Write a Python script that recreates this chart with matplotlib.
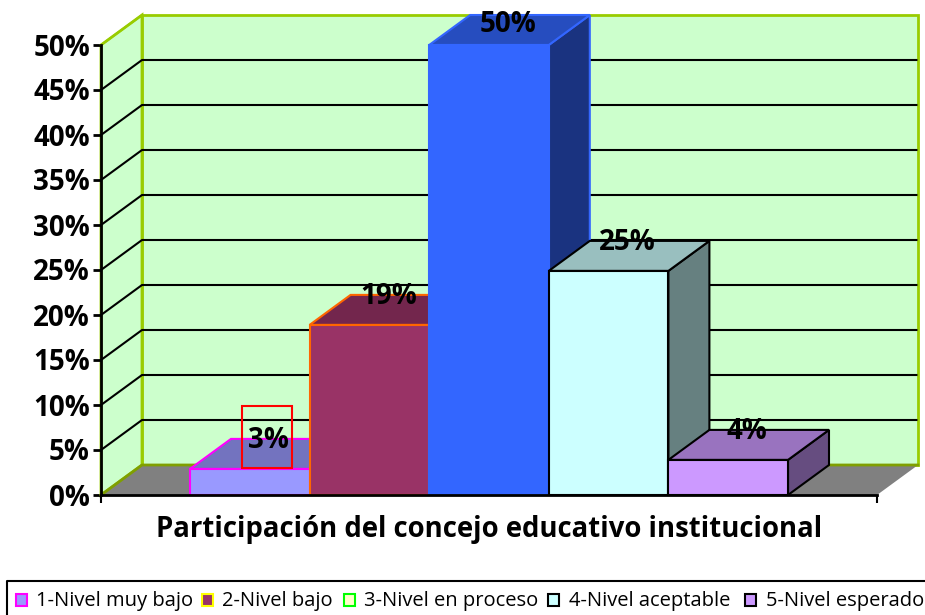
import matplotlib
matplotlib.use('Agg')
import matplotlib.pyplot as plt
from matplotlib.patches import Polygon, Rectangle
from matplotlib.transforms import ScaledTranslation

W, H = 925, 615

categories = ['1-Nivel muy bajo', '2-Nivel bajo', '3-Nivel en proceso', '4-Nivel aceptable', '5-Nivel esperado']
values = [2.9, 18.9, 50, 24.9, 3.9]
y_ticks = [0, 5, 10, 15, 20, 25, 30, 35, 40, 45, 50]
title = 'Participación del concejo educativo institucional'

bar_colors = ['#9999FF', '#993366', '#3366FF', '#CCFFFF', '#CC99FF']
bar_edges = ['#FF00FF', '#FF6600', '#3366FF', '#000000', '#000000']
legend_colors = ['#9999FF', '#993366', '#FFFFCC', '#CCFFFF', '#CC99FF']
legend_edges = ['#FF00FF', '#FFFF00', '#00FF00', '#000000', '#000000']

# legend entry x positions in pixels (swatch, text)
legend_x = [(16, 36), (202, 222), (344, 364), (548, 569), (745, 766)]

plt.rcParams['font.family'] = ['Open Sans', 'DejaVu Sans']

fig = plt.figure(figsize=(W / 100, H / 100), dpi=100)
ax = fig.add_axes([101 / W, 1 - 495 / H, 776 / W, 450 / H])
ax.set_ylim(0, 50)
bar_w = 119.6 / 776
ax.set_xlim(0, 1)
ax.patch.set_visible(False)

# depth of the fake 3d box, axes x units / percent
dx = 41 / 776
dy = 30 / 9


def tint(color, f):
    r, g, b = matplotlib.colors.to_rgb(color)
    return (r * f, g * f, b * f)


def poly(points, face, edge, lw=1.5, z=1):
    ax.add_patch(Polygon(points, closed=True, facecolor=face, edgecolor=edge, linewidth=lw,
                         clip_on=False, zorder=z, joinstyle='miter'))


# walls and floor
wall_green = '#CCFFCC'
wall_edge = '#99CC00'
poly([(dx, dy), (1 + dx, dy), (1 + dx, 50 + dy), (dx, 50 + dy)], wall_green, wall_edge, 2)
poly([(0, 0), (dx, dy), (dx, 50 + dy), (0, 50)], wall_green, wall_edge, 2)
poly([(0, 0), (1, 0), (1 + dx, dy), (dx, dy)], '#808080', 'none', 0, 1.5)
ax.plot([0, dx, 1 + dx], [0, dy, dy], color='#7F9F00', lw=2, clip_on=False, zorder=1.6)

for t in y_ticks[1:-1]:
    ax.plot([0, dx, 1 + dx - 0.002], [t, t + dy, t + dy], color='black', lw=1.5, clip_on=False, zorder=2)
ax.plot([0, dx], [50, 50 + dy], color=wall_edge, lw=1.5, clip_on=False, zorder=2)

# bars, left to right so each one covers the side of the previous
x0 = (190 - 101) / 776
for i, v in enumerate(values):
    l = x0 + i * bar_w
    r = l + bar_w
    z = 3 + i
    c, e = bar_colors[i], bar_edges[i]
    poly([(r, 0), (r + dx, dy), (r + dx, v + dy), (r, v)], tint(c, 0.5), e, 1.5, z)
    poly([(l, v), (r, v), (r + dx, v + dy), (l + dx, v + dy)], tint(c, 0.75), e, 1.5, z)
    poly([(l, 0), (r, 0), (r, v), (l, v)], c, e, 1.5, z)

# labels sit on the top face, the tallest is pushed down to stay under the wall edge
for i, v in enumerate(values):
    ly = min(v + dy - 2 / 9, 50 + dy - 10 / 9)
    ax.text(x0 + (i + 0.5) * bar_w + 19 / 776, ly, f'{round(v)}%', ha='center', va='center',
            fontsize=20, fontweight='bold', color='black', zorder=10, clip_on=False)

# red box around the first label
ax.add_patch(Rectangle(((242 - 101) / 776, values[0] + 0.1), 50 / 776, 62 / 9, fill=False, edgecolor='#FF0000',
                       linewidth=1.5, clip_on=False, zorder=11))

for s in ['top', 'right']:
    ax.spines[s].set_visible(False)
for s in ['left', 'bottom']:
    ax.spines[s].set_color('black')
    ax.spines[s].set_linewidth(2)
    ax.spines[s].set_zorder(9)
ax.set_xticks([0, 1])
ax.set_xticklabels([])
ax.set_yticks(y_ticks)
ax.set_yticklabels([f'{t}%' for t in y_ticks])
ax.tick_params(axis='y', length=6, width=2, labelsize=20, pad=2)
ax.tick_params(axis='x', length=6, width=1.5)
# tick labels come out a little high with va center
shift = ScaledTranslation(0, -3 / 100, fig.dpi_scale_trans)
for lab in ax.get_yticklabels():
    lab.set_fontweight('bold')
    lab.set_va('center')
    lab.set_transform(lab.get_transform() + shift)

fig.text(489 / W, 1 - 529 / H, title, ha='center', va='center', fontsize=19.8, fontweight='bold')

# legend box runs off the bottom and right of the picture
fig.add_artist(plt.Line2D([7 / W, 7 / W, 1], [0, 1 - 581 / H, 1 - 581 / H], color='black', lw=1.5))
for i, name in enumerate(categories):
    sx, tx = legend_x[i]
    fig.add_artist(Rectangle((sx / W, 1 - 606 / H), 11 / W, 12 / H, transform=fig.transFigure,
                             facecolor=legend_colors[i], edgecolor=legend_edges[i], linewidth=1.5))
    fig.text(tx / W, 1 - 601 / H, name, ha='left', va='center', fontsize=14.5, color='black')

fig.savefig('out.png', dpi=100)
